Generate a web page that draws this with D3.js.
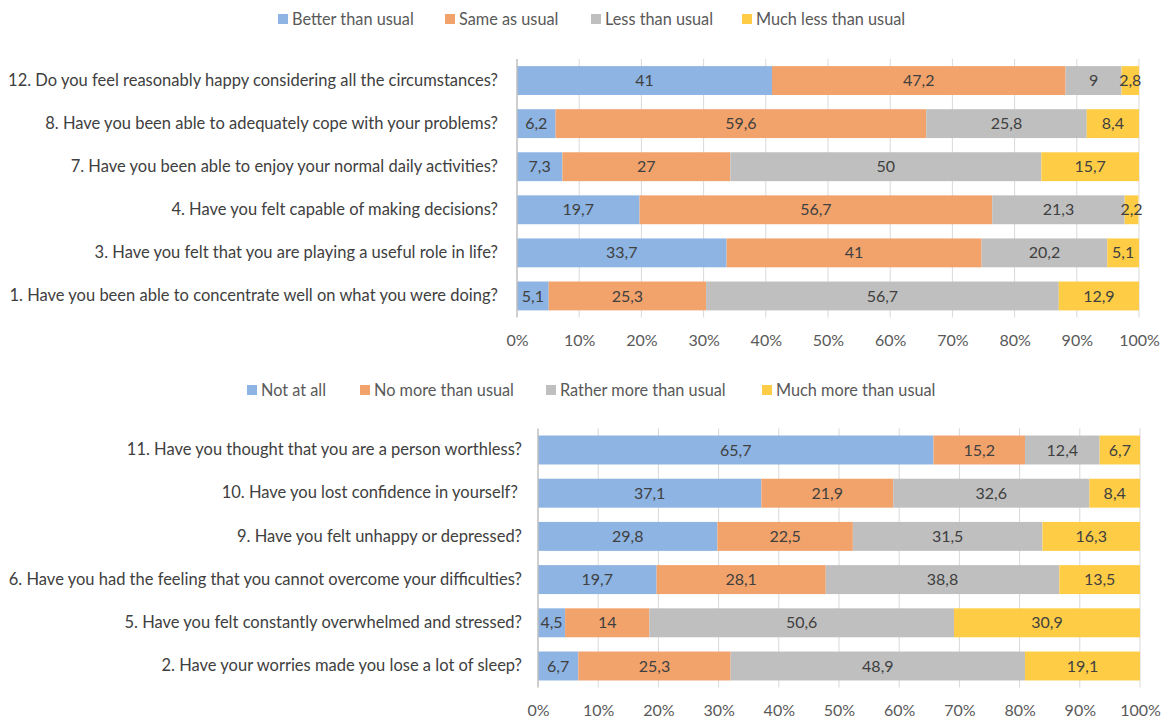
<!DOCTYPE html>
<html><head><meta charset="utf-8">
<script src="https://cdn.jsdelivr.net/npm/d3@7"></script>
<style>body{margin:0;background:#fff}svg{display:block}text{font-family:Lato,"Open Sans",sans-serif}</style>
</head><body>
<svg id="c" width="1166" height="718"></svg>
<script>
const topQuestions = [
  "12. Do you feel reasonably happy considering all the circumstances?",
  "8. Have you been able to adequately cope with your problems?",
  "7. Have you been able to enjoy your normal daily activities?",
  "4. Have you felt capable of making decisions?",
  "3. Have you felt that you are playing a useful role in life?",
  "1. Have you been able to concentrate well on what you were doing?"
];
const topSeriesNames = ["Better than usual","Same as usual","Less than usual","Much less than usual"];
const topBetter = [41, 6.2, 7.3, 19.7, 33.7, 5.1];
const topSame   = [47.2, 59.6, 27, 56.7, 41, 25.3];
const topLess   = [9, 25.8, 50, 21.3, 20.2, 56.7];
const topMuchLess = [2.8, 8.4, 15.7, 2.2, 5.1, 12.9];

const botQuestions = [
  "11. Have you thought that you are a person worthless?",
  "10. Have you lost confidence in yourself? ",
  "9. Have you felt unhappy or depressed?",
  "6. Have you had the feeling that you cannot overcome your difficulties?",
  "5. Have you felt constantly overwhelmed and stressed?",
  "2. Have your worries made you lose a lot of sleep?"
];
const botSeriesNames = ["Not at all","No more than usual","Rather more than usual","Much more than usual"];
const botNotAtAll = [65.7, 37.1, 29.8, 19.7, 4.5, 6.7];
const botNoMore   = [15.2, 21.9, 22.5, 28.1, 14, 25.3];
const botRather   = [12.4, 32.6, 31.5, 38.8, 50.6, 48.9];
const botMuch     = [6.7, 8.4, 16.3, 13.5, 30.9, 19.1];

const tickValues = [0,10,20,30,40,50,60,70,80,90,100];
const colors = ["#8db4e2","#f2a36c","#bfbfbf","#ffcd45"];

const svg = d3.select("#c");

function panel(cfg){
  const {questions, series, names, x0, x1, y0, y1, legendY, legendX, tickY} = cfg;
  const g = svg.append("g");
  const x = d3.scaleLinear().domain([0,100]).range([x0,x1]);
  const y = d3.scaleBand().domain(questions).range([y0,y1]).paddingInner(0.33).paddingOuter(0.165);
  g.selectAll("line.grid").data(tickValues.slice(1)).join("line")
    .attr("x1",d=>x(d)).attr("x2",d=>x(d)).attr("y1",y0).attr("y2",y1)
    .attr("stroke","#d9d9d9").attr("stroke-width",1);
  const rows = questions.map((q,i)=>{
    let acc=0; return series.map((s,k)=>{const v=s[i]; const r={q,k,v,a:acc,b:Math.min(100,acc+v)}; acc+=v; return r;});
  }).flat();
  g.selectAll("rect.seg").data(rows).join("rect")
    .attr("x",d=>x(d.a)).attr("width",d=>x(d.b)-x(d.a))
    .attr("y",d=>y(d.q)).attr("height",y.bandwidth())
    .attr("fill",d=>colors[d.k]);
  g.selectAll("text.val").data(rows).join("text")
    .attr("x",d=>(x(d.a)+x(d.b))/2).attr("y",d=>y(d.q)+y.bandwidth()/2)
    .attr("dy","0.35em").attr("text-anchor","middle")
    .attr("font-size",16).attr("fill","#404040")
    .text(d=>String(d.v).replace(".",","));
  g.append("line").attr("x1",x0).attr("x2",x0).attr("y1",y0).attr("y2",y1)
    .attr("stroke","#bfbfbf").attr("stroke-width",1.5);
  const ax = d3.axisLeft(y).tickSize(0).tickPadding(x0-cfg.labelRight);
  const ag = g.append("g").attr("transform",`translate(${x0},0)`).call(ax);
  ag.select(".domain").remove();
  ag.selectAll("text").attr("font-size",16.5).attr("fill","#404040").style("white-space","pre").attr("font-family","Lato,'Open Sans',sans-serif");
  const xa = d3.axisBottom(x).tickValues(tickValues).tickSize(0).tickPadding(0).tickFormat(d=>d+"%");
  const xg = g.append("g").attr("transform",`translate(0,${tickY})`).call(xa);
  xg.select(".domain").remove();
  xg.selectAll("text").attr("font-size",16).attr("fill","#595959").attr("dy","0.35em").attr("y",0).attr("font-family","Lato,'Open Sans',sans-serif");
  const lg = g.selectAll("g.leg").data(names).join("g").attr("transform",(d,i)=>`translate(${legendX[i]},${legendY})`);
  lg.append("rect").attr("x",0).attr("y",-5).attr("width",10).attr("height",10).attr("fill",(d,i)=>colors[i]);
  lg.append("text").attr("x",14).attr("dy","0.35em").attr("font-size",16.3).attr("fill","#595959").text(d=>d);
}

panel({questions:topQuestions, series:[topBetter,topSame,topLess,topMuchLess], names:topSeriesNames,
  x0:517, x1:1139, y0:59, y1:317.5, legendY:19, legendX:[278,445,591,742], tickY:340, labelRight:498});
panel({questions:botQuestions, series:[botNotAtAll,botNoMore,botRather,botMuch], names:botSeriesNames,
  x0:538, x1:1140, y0:428.4, y1:687.6, legendY:390, legendX:[247,360,546,762], tickY:710, labelRight:522});
</script>
</body></html>
